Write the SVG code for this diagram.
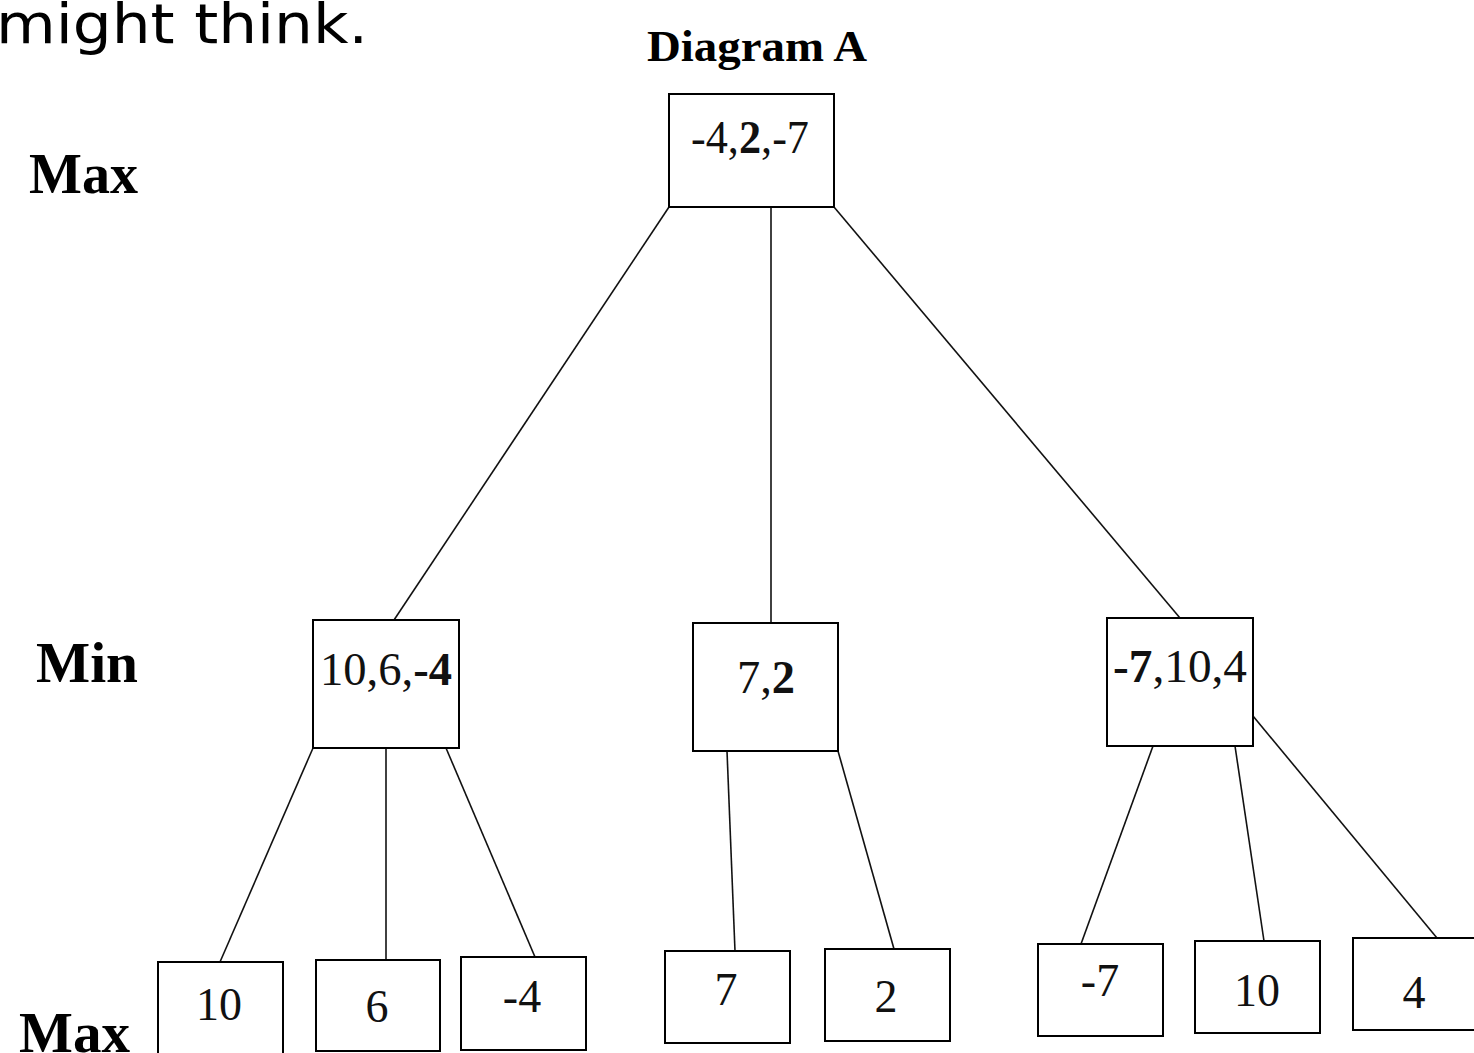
<svg xmlns="http://www.w3.org/2000/svg" width="1474" height="1053" viewBox="0 0 1474 1053">
<style>
.bg{fill:#fff}
.box{fill:#fff;stroke:#000;stroke-width:2}
.ln{stroke:#111;stroke-width:1.6;fill:none}
.v{font-family:"Liberation Serif","Times New Roman",serif;font-size:46px;fill:#111;text-anchor:middle}
.b{font-weight:bold}
.lab{font-family:"Liberation Serif","Times New Roman",serif;font-size:56px;font-weight:bold;fill:#000}
.cap{font-family:"DejaVu Sans",sans-serif;font-size:55px;fill:#000}
</style>
<rect class="bg" x="0" y="0" width="1474" height="1053"/>
<text class="cap" x="-4" y="43" textLength="372" lengthAdjust="spacingAndGlyphs">might think.</text>
<text class="lab" x="647" y="61" style="font-size:44px" textLength="220" lengthAdjust="spacingAndGlyphs">Diagram A</text>
<text class="lab" x="29" y="193" textLength="109" lengthAdjust="spacingAndGlyphs">Max</text>
<text class="lab" x="36" y="682" textLength="102" lengthAdjust="spacingAndGlyphs">Min</text>
<text class="lab" x="19" y="1052" textLength="111" lengthAdjust="spacingAndGlyphs">Max</text>
<g id="connectors">
<line class="ln" x1="669" y1="207" x2="394" y2="620"/>
<line class="ln" x1="771" y1="207" x2="771" y2="623"/>
<line class="ln" x1="834" y1="207" x2="1180" y2="618"/>
<line class="ln" x1="313" y1="748" x2="220" y2="962"/>
<line class="ln" x1="386" y1="748" x2="386" y2="960"/>
<line class="ln" x1="446" y1="748" x2="535" y2="957"/>
<line class="ln" x1="727" y1="751" x2="735" y2="951"/>
<line class="ln" x1="838" y1="751" x2="894" y2="949"/>
<line class="ln" x1="1153" y1="746" x2="1081" y2="944"/>
<line class="ln" x1="1235" y1="746" x2="1264" y2="941"/>
<line class="ln" x1="1253" y1="716" x2="1437" y2="938"/>
</g>
<g id="root">
<rect class="box" x="669" y="94" width="165" height="113"/>
<text class="v" x="750" y="153" textLength="118" lengthAdjust="spacingAndGlyphs">-4,<tspan class="b">2</tspan>,-7</text>
</g>
<g id="min1">
<rect class="box" x="313" y="620" width="146" height="128"/>
<text class="v" x="386" y="685" textLength="132" lengthAdjust="spacingAndGlyphs">10,6,<tspan class="b">-4</tspan></text>
</g>
<g id="min2">
<rect class="box" x="693" y="623" width="145" height="128"/>
<text class="v" x="766" y="693" textLength="58" lengthAdjust="spacingAndGlyphs">7,<tspan class="b">2</tspan></text>
</g>
<g id="min3">
<rect class="box" x="1107" y="618" width="146" height="128"/>
<text class="v" x="1180" y="682" textLength="134" lengthAdjust="spacingAndGlyphs"><tspan class="b">-7</tspan>,10,4</text>
</g>
<g id="leaf1">
<rect class="box" x="158" y="962" width="125" height="95"/>
<text class="v" x="219" y="1020">10</text>
</g>
<g id="leaf2">
<rect class="box" x="316" y="960" width="124" height="91"/>
<text class="v" x="377" y="1022">6</text>
</g>
<g id="leaf3">
<rect class="box" x="461" y="957" width="125" height="93"/>
<text class="v" x="522" y="1012">-4</text>
</g>
<g id="leaf4">
<rect class="box" x="665" y="951" width="125" height="92"/>
<text class="v" x="726" y="1005">7</text>
</g>
<g id="leaf5">
<rect class="box" x="825" y="949" width="125" height="92"/>
<text class="v" x="886" y="1012">2</text>
</g>
<g id="leaf6">
<rect class="box" x="1038" y="944" width="125" height="92"/>
<text class="v" x="1100" y="996">-7</text>
</g>
<g id="leaf7">
<rect class="box" x="1195" y="941" width="125" height="92"/>
<text class="v" x="1257" y="1006">10</text>
</g>
<g id="leaf8">
<rect class="box" x="1353" y="938" width="130" height="92"/>
<text class="v" x="1414" y="1008">4</text>
</g>
</svg>
